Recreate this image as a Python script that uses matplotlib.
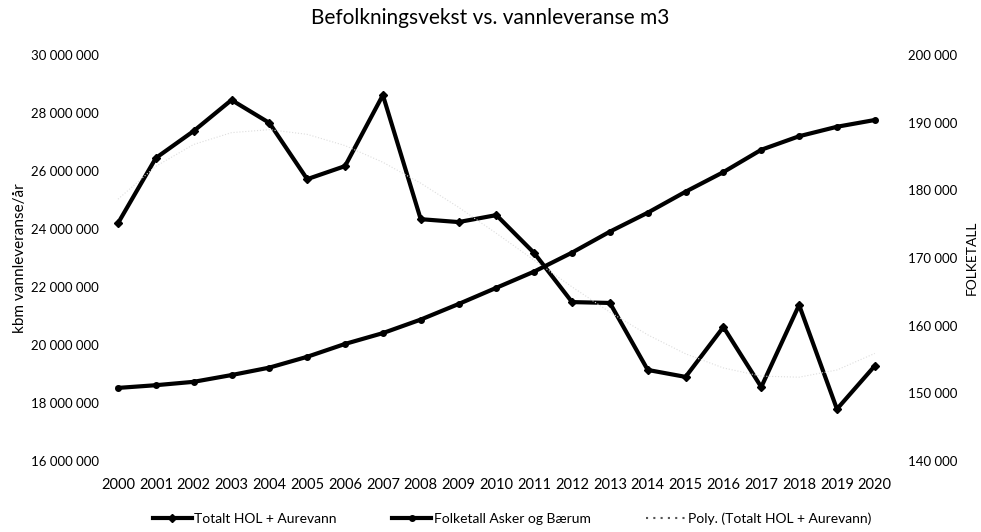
import numpy as np
import matplotlib
matplotlib.use('Agg')
import matplotlib.pyplot as plt
from matplotlib.ticker import FuncFormatter
from matplotlib.lines import Line2D

plt.rcParams['font.family'] = ['Lato', 'DejaVu Sans']

years = list(range(2000, 2021))
vann = [24.2, 26.45, 27.38, 28.45, 27.66, 25.72, 26.17, 28.62, 24.34, 24.24, 24.48,
        23.17, 21.48, 21.45, 19.14, 18.9, 20.62, 18.55, 21.38, 17.79, 19.28]  # mill. m3
folketall = [150.8, 151.2, 151.7, 152.7, 153.8, 155.4, 157.3, 158.9, 160.9, 163.2, 165.6,
             168.0, 170.8, 173.9, 176.7, 179.8, 182.7, 186.0, 188.0, 189.4, 190.4]  # tusen

vann_abs = np.array(vann) * 1e6
folk_abs = np.array(folketall) * 1e3
x = np.arange(len(years))

# trendline (Excel "Poly") fitted on the water data
coef = np.polyfit(x, vann_abs, 3)
trend = np.polyval(coef, x)

fig = plt.figure(figsize=(9.81, 5.32), dpi=100)
ax = fig.add_axes([0.101, 0.1335, 0.81, 0.763])
ax2 = ax.twinx()

l1, = ax.plot(x, vann_abs, color='black', linewidth=3, marker='D', markersize=4,
              label='Totalt HOL + Aurevann')
ax.plot(x, trend, color='#dddddd', linewidth=0.8, linestyle=':')
l2, = ax2.plot(x, folk_abs, color='black', linewidth=3, marker='o', markersize=4,
               label='Folketall Asker og Bærum')
# legend handle for the trendline (the scan shows its dots darker there)
l3 = Line2D([], [], color='#555555', linewidth=1.5, linestyle=(0, (1, 2.5)))

ax.set_xlim(-0.5, len(years) - 0.5)
ax.set_ylim(16e6, 30e6)
ax.set_yticks(np.arange(16e6, 30e6 + 1, 2e6))
ax2.set_ylim(140e3, 200e3)
ax2.set_yticks(np.arange(140e3, 200e3 + 1, 10e3))

fmt = FuncFormatter(lambda v, p: f'{int(v):,}'.replace(',', ' '))
ax.yaxis.set_major_formatter(fmt)
ax2.yaxis.set_major_formatter(fmt)

ax.set_xticks(x)
ax.set_xticklabels([str(y) for y in years])

for a in (ax, ax2):
    for s in a.spines.values():
        s.set_visible(False)
    a.tick_params(length=0, labelsize=9.5, colors='black')
ax.tick_params(axis='y', pad=0)
ax2.tick_params(axis='y', pad=10)
ax.tick_params(axis='x', pad=12, labelsize=10.5)

ax.set_ylabel('kbm vannleveranse/år', fontsize=11, labelpad=3)
ax2.set_ylabel('FOLKETALL', fontsize=10, labelpad=6)
fig.suptitle('Befolkningsvekst vs. vannleveranse m3', fontsize=15, y=0.985)

fig.legend([l1, l2, l3], ['Totalt HOL + Aurevann', 'Folketall Asker og Bærum',
                          'Poly. (Totalt HOL + Aurevann)'],
           loc='lower center', bbox_to_anchor=(0.522, -0.01), ncol=3, frameon=False,
           fontsize=10, handlelength=2.8, handletextpad=0.2, columnspacing=4)

fig.savefig('out.png', dpi=100)
